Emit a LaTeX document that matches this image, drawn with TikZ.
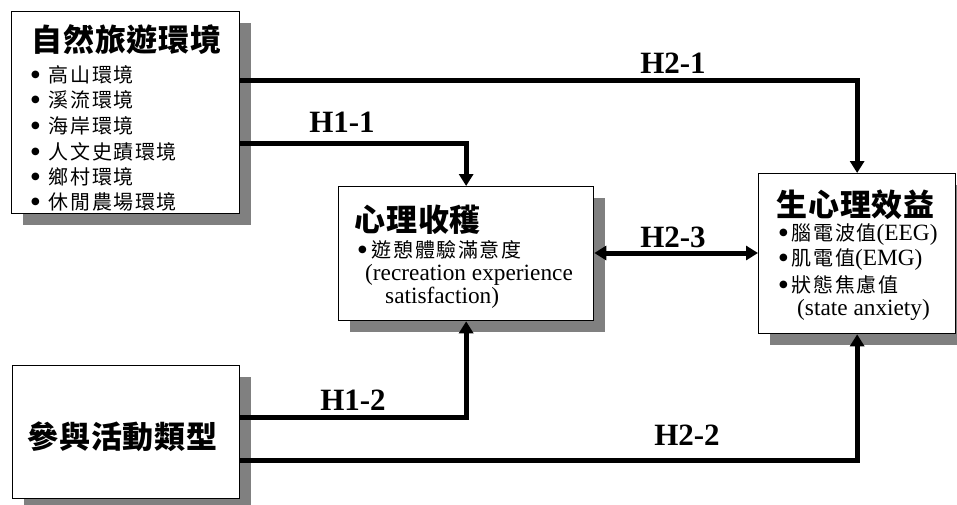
\documentclass[tikz,border=0pt]{standalone}
\usepackage{fontspec}
\setmainfont{Liberation Serif}
\newfontfamily\cjktitle{Noto Sans CJK TC}[LetterSpace=3]
\newfontfamily\cjkitem{Noto Sans CJK TC}[LetterSpace=8]
\newfontfamily\dejavu{DejaVu Sans}
\usetikzlibrary{arrows.meta,shadows}
\definecolor{shadowgray}{HTML}{808080}
\newcommand{\ckt}[1]{{\cjkitem\fontsize{20}{22}\selectfont #1}}
\newcommand{\bul}[1]{\raisebox{5pt}{\dejavu\fontsize{10}{10}\selectfont ●}\hspace{#1}}
\begin{document}
\begin{tikzpicture}[x=1pt,y=-1pt,
  box/.style={draw=black, line width=1.3pt, fill=white, anchor=north west, inner sep=0pt,
    general shadow={fill=shadowgray, shadow xshift=11pt, shadow yshift=-11pt}},
  conn/.style={line width=5pt, -{Triangle[length=12pt,width=14pt]}},
  dconn/.style={line width=5pt, {Triangle[length=12pt,width=14pt]}-{Triangle[length=12pt,width=14pt]}},
  ttl/.style={anchor=west, inner sep=0pt, font=\cjktitle\bfseries\fontsize{31}{33}\selectfont},
  itm/.style={anchor=west, inner sep=0pt, font=\fontsize{23.3}{25}\selectfont},
  hlab/.style={inner sep=0pt, font=\bfseries\fontsize{31}{33}\selectfont}]
\useasboundingbox (0,0) rectangle (957,504);

% boxes
\node[box, minimum width=228pt, minimum height=202pt] (b1) at (11,11) {};
\node[box, minimum width=255pt, minimum height=134pt] (b2) at (338,186) {};
\node[box, minimum width=197pt, minimum height=160pt] (b3) at (758,173) {};
\node[box, minimum width=227pt, minimum height=133pt] (b4) at (12,365) {};

% box 1 text
\node[ttl] (b1t) at (31,40) {自然旅遊環境};
\node[itm] (b1i1) at (31,75) {\bul{9pt}\ckt{高山環境}};
\node[itm] (b1i2) at (31,100) {\bul{9pt}\ckt{溪流環境}};
\node[itm] (b1i3) at (31,126) {\bul{9pt}\ckt{海岸環境}};
\node[itm] (b1i4) at (31,152) {\bul{9pt}\ckt{人文史蹟環境}};
\node[itm] (b1i5) at (31,177) {\bul{9pt}\ckt{鄉村環境}};
\node[itm] (b1i6) at (31,202) {\bul{9pt}\ckt{休閒農場環境}};

% box 2 text
\node[ttl] (b2t) at (354,220) {心理收穫};
\node[itm] (b2i1) at (358,250) {\bul{5pt}\ckt{遊憩體驗滿意度}};
\node[itm] (b2i2) at (365,275) {(recreation experience};
\node[itm] (b2i3) at (385,298) {satisfaction)};

% box 3 text
\node[ttl] (b3t) at (776,205) {生心理效益};
\node[itm] (b3i1) at (779,235) {\bul{4pt}\ckt{腦電波值}(EEG)};
\node[itm] (b3i2) at (779,260) {\bul{4pt}\ckt{肌電值}(EMG)};
\node[itm] (b3i3) at (779,285) {\bul{4pt}\ckt{狀態焦慮值}};
\node[itm] (b3i4) at (797,310) {(state anxiety)};

% box 4 text
\node[ttl] (b4t) at (27,437) {參與活動類型};

% connectors
\draw[conn] ([yshift=-69pt]b1.north east) -| (b3.north);
\draw[conn] ([yshift=-132pt]b1.north east) -| (b2.north);
\draw[dconn] ([yshift=-67pt]b2.north east) coordinate (p23) -- (p23 -| b3.west);
\draw[conn] ([yshift=-52pt]b4.north east) -| (b2.south);
\draw[conn] ([yshift=-95pt]b4.north east) -| (b3.south);

% labels
\node[hlab] (h21) at (673,63) {H2-1};
\node[hlab] (h11) at (342,122) {H1-1};
\node[hlab] (h23) at (673,237) {H2-3};
\node[hlab] (h12) at (353,400) {H1-2};
\node[hlab] (h22) at (687,435) {H2-2};
\end{tikzpicture}
\end{document}
